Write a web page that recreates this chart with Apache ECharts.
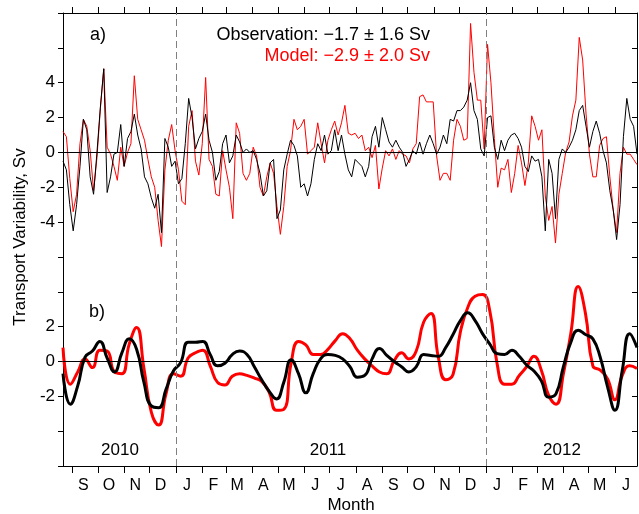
<!DOCTYPE html>
<html>
<head>
<meta charset="utf-8">
<script src="https://cdn.jsdelivr.net/npm/echarts@6/dist/echarts.min.js"></script>
<style>
  html, body { margin: 0; padding: 0; background: #fff; }
  #main { width: 639px; height: 514px; }
</style>
</head>
<body>
<div id="main"></div>
<script>
// days counted from 1 Jan 2011
var dayMin = -133, dayMax = 543;
var monthStarts = [-122, -92, -61, -31, 0, 31, 59, 90, 120, 151, 181, 212,
                   243, 273, 304, 334, 365, 396, 425, 456, 486, 517];
var monthLetters = ['S', 'O', 'N', 'D', 'J', 'F', 'M', 'A', 'M', 'J', 'J', 'A',
                    'S', 'O', 'N', 'D', 'J', 'F', 'M', 'A', 'M', 'J'];
var yearBreaks = [0, 365];
var yearLabels = ['2010', '2011', '2012'];

// panel a) : daily-ish series, one value every 4 days
var dailyStep = 4;
var obsDaily = [
  -0.5, -1.0, -3.0, -4.5, -3.0, -0.8, 1.9, 1.3, -1.4, -2.4,
  0.0, 2.6, 4.8, -2.3, -1.4, -0.1, 0.0, 1.6, -0.8, 0.8,
  1.2, 2.2, 1.0, 0.2, -1.4, -1.8, -2.6, -3.2, -2.4, -4.6,
  0.8, 0.3, -0.8, -0.5, -1.8, -1.5, 0.5, 3.1, 2.0, 0.2,
  0.8, 1.2, 2.2,
  0.7, 0.0, -1.6, -1.1, 0.5, 1.0, -0.6, -0.2, 1.0, 0.6,
  0.0, 0.2, 0.0, 0.1, -0.4, -1.2, -2.5, -2.2, -0.6, -0.4,
  -3.8, -3.3, -1.0, -0.1, 0.7, 0.4, -0.2, -2.0, -1.8, -2.5,
  -1.8, -0.4, 0.5, 0.1, 1.0, -0.1, 0.1, 1.3, 0.1, 1.0,
  -0.1, -1.0,
  -1.4, -0.4, -0.6, -0.8, -1.4, -0.8, 0.9, 1.5, 0.3, 2.0,
  1.3, 0.6, 0.3, 0.7, 0.3, 0.0, -0.8, -0.4, 0.1, -0.1,
  0.6, -0.1, 0.5, 1.0, 0.5, -0.1, 0.3, 1.0, 0.5, 1.9,
  1.8, 2.4, 2.4, 2.6, 3.0, 4.0, 2.4, 1.9, 0.2, -0.2,
  2.0, 2.1,
  0.3, -0.4, 0.7, 0.1, 0.7, 1.0, 1.1, 0.8, 0.3, -0.8,
  -1.1, -0.2, -0.5, -0.4, -1.4, -4.5, -0.4, -1.2, -3.8, -0.4,
  0.2, 0.0, 0.3, 0.7, 1.3, 2.4, 2.7, 1.5, 0.3, 1.2,
  1.8, 1.1, 0.1, -0.6, -2.2, -3.3, -5.0, -3.0, 0.9, 3.1,
  1.9, 1.5, -0.1
];
var modelDaily = [
  1.2, 0.9, -1.5, -3.4, -2.4, 0.5, 1.9, 1.5, 0.1, -2.2,
  -0.3, 2.5, 4.8, 0.3, -0.1, -0.8, -1.6, 0.3, -0.8, 0.0,
  0.5, 4.4, 1.9, 1.3, 0.7, -0.4, -1.4, -2.0, -3.9, -5.4,
  -1.0, 0.7, 1.6, 0.1, -1.0, -2.8, -3.0, 1.5, 2.4, -0.5,
  -1.3, 0.5, 4.3,
  -0.4, -0.8, -2.4, -2.5, 0.1, -1.0, -2.0, -3.8, 1.7, 1.1,
  -1.2, -1.6, -1.2, 0.3, -0.2, -2.0, -2.5, -1.4, -0.6, -1.2,
  -3.1, -4.7, -3.1, -0.8, 0.1, 1.9, 1.3, 1.5, 1.9, -0.1,
  0.1, 0.3, 1.7, 0.5, -0.6, 0.7, 1.3, 1.8, 1.0, 1.7,
  2.7, 1.1,
  1.0, 1.1, 0.8, 1.0, 0.1, 0.3, -0.3, 0.4, -2.1, -0.9,
  0.1, -0.2, 0.2, -0.4, 0.1, -0.1, -0.2, -0.6, 0.2, 0.5,
  3.2, 3.3, 2.9, 2.9, 2.9, -0.2, -1.6, -1.2, -1.2, -1.6,
  0.7, 1.9, 1.5, 0.7, 0.8, 7.4, 4.6, 3.0, 3.0, 0.2,
  6.2, 4.0,
  0.8, -2.0, -0.9, -1.0, -0.4, -2.3, -1.2, 0.4, -0.6, -1.9,
  -0.6, 2.1, 1.5, 0.7, 1.3, -2.5, -3.9, -3.1, -5.2, -2.4,
  -1.2, 0.0, 0.6, 2.1, 3.0, 6.6, 5.3, 2.2, -0.1, -1.4,
  -1.4, 0.4, 0.8, 0.9, -1.4, -3.3, -4.6, -1.2, 0.3, -0.1,
  -0.1, -0.4, -0.7
];

// panel b) : filtered series
var smoothStep = 26 / 3;
var obsFiltered = [
  -0.7, -2.45, -1.4, 0.25, 0.6, 1.15, 0.2, -0.6, 0.5, 1.3,
  0.7, -1.2, -2.55, -2.65, -1.6, -0.55, -0.05, 1.1, 1.1, 1.15,
  0.4, -0.25, -0.1, 0.4, 0.6, 0.4, -0.3, -1.05, -1.7, -2.15,
  -1.2, 0.1, -0.7, -1.8, -0.7, 0.15, 0.4, 0.35, 0.15, -0.3,
  -0.9, -0.8, 0.15, 0.75, 0.35, 0.0, -0.3, -0.6, -0.3, 0.4,
  0.35, 0.3, 0.8, 1.55, 2.35, 2.8, 2.35, 1.6, 1.0, 0.45,
  0.4, 0.65, 0.3, -0.2, -0.55, -1.1, -2.05, -1.85, -0.3, 1.1,
  1.8, 1.55, 1.3, 0.25, -1.45, -2.8, -0.5, 1.6, 0.8
];
var modelFiltered = [
  0.8, -1.3, -0.6, 0.15, -0.35, 0.65, 0.6, -0.6, -0.7, 1.0,
  1.95, -0.4, -2.9, -3.65, -1.85, -0.7, -0.85, 0.2, 0.5, 0.65,
  -0.25, -1.2, -1.35, -0.85, -0.7, -0.8, -0.95, -1.15, -1.75, -2.8,
  -2.75, -0.1, 1.15, 0.95, 0.4, 0.4, 0.7, 1.2, 1.6, 1.3,
  0.65, 0.15, -0.25, -0.6, -0.7, 0.05, 0.5, 0.15, 0.6, 2.25,
  2.75, 0.25, -1.05, -0.75, 1.7, 3.1, 3.75, 3.85, 2.9, -0.15,
  -1.3, -1.3, -0.8, -0.3, 0.3, -0.5, -1.95, -2.45, -0.7, 1.6,
  4.3, 2.75, -0.25, -0.5, -1.0, -2.2, -0.8, -0.25, -0.4
];

var fontFamily = '"Liberation Sans", Arial, sans-serif';
var labelDays = monthStarts.map(function (d) { return d + 13; });

function toPairs(values, step) {
  return values.map(function (v, i) { return [dayMin + i * step, v]; });
}

function xAxisFor(grid, pos, tickLen, withLabels) {
  return {
    gridIndex: grid,
    type: 'value',
    position: pos,
    min: dayMin,
    max: dayMax,
    splitLine: { show: false },
    axisLine: { show: true, onZero: false, lineStyle: { color: '#000', width: 1 } },
    axisTick: { show: true, customValues: monthStarts, length: tickLen, lineStyle: { color: '#000' } },
    axisLabel: withLabels ? {
      customValues: labelDays,
      color: '#000',
      fontSize: 16,
      fontFamily: fontFamily,
      margin: 12,
      formatter: function (v) { return monthLetters[labelDays.indexOf(v)] || ''; }
    } : { show: false }
  };
}

function yAxisFor(grid, lo, hi, lab, right) {
  return {
    gridIndex: grid,
    type: 'value',
    position: right ? 'right' : 'left',
    min: lo,
    max: hi,
    interval: 2,
    splitLine: { show: false },
    axisLine: { show: true, onZero: false, lineStyle: { color: '#000', width: 1 } },
    axisTick: { show: true, inside: !!right, length: 5, lineStyle: { color: '#000' } },
    axisLabel: right ? { show: false } : {
      color: '#000',
      fontSize: 17,
      fontFamily: fontFamily,
      margin: 8,
      formatter: function (v) { return Math.abs(v) <= lab ? String(v) : ''; }
    }
  };
}

var dashed = {
  silent: true,
  symbol: ['none', 'none'],
  label: { show: false },
  lineStyle: { color: '#808080', width: 1, type: [7, 4] },
  data: yearBreaks.map(function (d) { return { xAxis: d }; })
};
var zeroLine = {
  silent: true,
  symbol: ['none', 'none'],
  label: { show: false },
  lineStyle: { color: '#000', width: 1, type: 'solid' },
  data: [{ yAxis: 0 }]
};

function textEl(str, x, y, opts) {
  opts = opts || {};
  return {
    type: 'text',
    x: x,
    y: y,
    rotation: opts.rotation || 0,
    style: {
      text: str,
      fill: opts.color || '#000',
      font: (opts.size || 17) + 'px ' + fontFamily,
      textAlign: opts.align || 'center',
      textVerticalAlign: 'middle'
    }
  };
}

var chart = echarts.init(document.getElementById('main'));
chart.setOption({
  animation: false,
  backgroundColor: '#fff',
  grid: [
    { left: 63, right: 2, top: 13, height: 244 },
    { left: 63, right: 2, top: 257, height: 209 }
  ],
  xAxis: [
    xAxisFor(0, 'top', 6, false),
    xAxisFor(1, 'bottom', 7, true)
  ],
  yAxis: [
    yAxisFor(0, -6, 8, 4, false),
    yAxisFor(0, -6, 8, 4, true),
    yAxisFor(1, -6, 6, 2, false),
    yAxisFor(1, -6, 6, 2, true)
  ],
  series: [
    {
      name: 'Model', type: 'line', xAxisIndex: 0, yAxisIndex: 0,
      data: toPairs(modelDaily, dailyStep), showSymbol: false,
      lineStyle: { color: '#ff0000', width: 1 },
      markLine: dashed
    },
    {
      name: 'Observation', type: 'line', xAxisIndex: 0, yAxisIndex: 0,
      data: toPairs(obsDaily, dailyStep), showSymbol: false,
      lineStyle: { color: '#000', width: 1 },
      markLine: zeroLine
    },
    {
      name: 'Model filtered', type: 'line', xAxisIndex: 1, yAxisIndex: 2,
      data: toPairs(modelFiltered, smoothStep), showSymbol: false, smooth: true,
      lineStyle: { color: '#ff0000', width: 3 },
      markLine: dashed
    },
    {
      name: 'Observation filtered', type: 'line', xAxisIndex: 1, yAxisIndex: 2,
      data: toPairs(obsFiltered, smoothStep), showSymbol: false, smooth: true,
      lineStyle: { color: '#000', width: 3 },
      markLine: zeroLine
    }
  ],
  graphic: [
    textEl('a)', 90, 35, { align: 'left', size: 18 }),
    textEl('b)', 89, 312, { align: 'left', size: 18 }),
    textEl('Observation: \u22121.7 \u00b1 1.6 Sv', 430, 35, { align: 'right', size: 18 }),
    textEl('Model: \u22122.9 \u00b1 2.0 Sv', 430, 56, { align: 'right', size: 18, color: '#ff0000' }),
    textEl(yearLabels[0], 120, 450),
    textEl(yearLabels[1], 328, 450),
    textEl(yearLabels[2], 562, 450),
    textEl('Month', 351, 505),
    textEl('Transport Variability, Sv', 20, 237, { rotation: Math.PI / 2 })
  ]
});
</script>
</body>
</html>
